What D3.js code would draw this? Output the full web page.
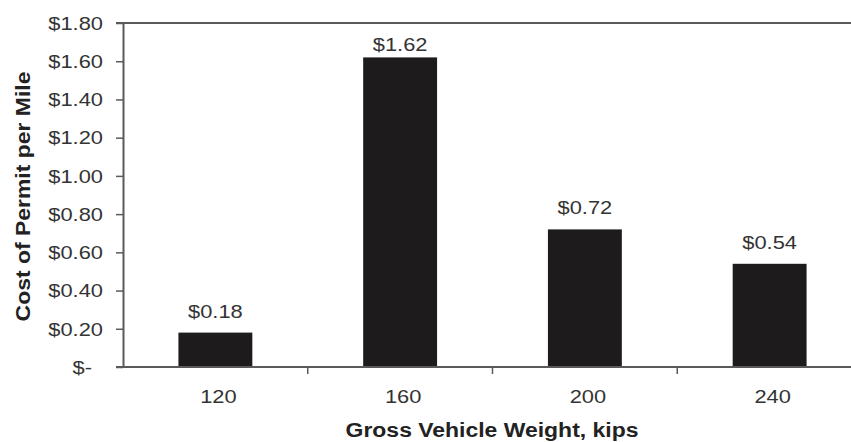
<!DOCTYPE html>
<html>
<head>
<meta charset="utf-8">
<script src="https://cdn.jsdelivr.net/npm/d3@7"></script>
<style>
  body { margin: 0; background: #fff; }
  text { font-family: "Liberation Sans", Arial, sans-serif; }
</style>
</head>
<body>
<svg id="bars"></svg>
<script>
// data
let weights = ['120', '160', '200', '240'];
let costs = [0.18, 1.62, 0.72, 0.54];
let costTicks = [0, 0.2, 0.4, 0.6, 0.8, 1.0, 1.2, 1.4, 1.6, 1.8];

let config = {
  'svg': {},
  'plot': {},
  'text': {}
};

config.svg.width = 851;
config.svg.height = 442;

// the plot box runs off the right edge of the picture
config.plot.x = 123;
config.plot.y = 23;
config.plot.width = 739;
config.plot.height = 344;

config.text.stretch = 1.25;
config.text.titleStretch = 1.12;

let svg = d3.select('svg#bars')
  .attr('width', config.svg.width)
  .attr('height', config.svg.height);

let scale = {};

scale.x = d3.scaleBand()
  .domain(weights)
  .range([config.plot.x, config.plot.x + config.plot.width])
  .paddingInner(0.6)
  .paddingOuter(0.3);

scale.y = d3.scaleLinear()
  .domain([0, 1.8])
  .range([config.plot.y + config.plot.height, config.plot.y]);

function money(d) {
  return d === 0 ? '$-' : '$' + d3.format('.2f')(d);
}

// top edge of the plot box
svg.append('line')
  .attr('x1', config.plot.x - 7)
  .attr('x2', config.svg.width)
  .attr('y1', scale.y(1.8))
  .attr('y2', scale.y(1.8))
  .attr('stroke', '#5a5a5a')
  .attr('stroke-width', 2);

// bars
svg.append('g')
  .attr('id', 'plot')
  .selectAll('rect')
  .data(weights)
  .enter()
  .append('rect')
  .attr('x', d => scale.x(d))
  .attr('y', (d, i) => scale.y(costs[i]))
  .attr('width', scale.x.bandwidth())
  .attr('height', (d, i) => scale.y(0) - scale.y(costs[i]))
  .attr('fill', '#1e1b1c');

// value labels, kept inside the plot box
svg.append('g')
  .attr('id', 'labels')
  .selectAll('text')
  .data(weights)
  .enter()
  .append('text')
  .attr('transform', (d, i) => {
    let y = Math.max(scale.y(costs[i]) - 15, config.plot.y + 28);
    return translate(scale.x(d) + scale.x.bandwidth() / 2, y) + ' scale(' + config.text.stretch + ',1)';
  })
  .attr('text-anchor', 'middle')
  .attr('font-size', '17.5px')
  .attr('fill', '#333')
  .text((d, i) => money(costs[i]));

// y axis
let axisY = d3.axisLeft(scale.y)
  .tickValues(costTicks)
  .tickFormat(money)
  .tickSize(7)
  .tickSizeOuter(0);

let gy = svg.append('g')
  .attr('id', 'y-axis')
  .attr('transform', translate(config.plot.x, 0))
  .call(axisY);

gy.select('.domain').attr('stroke', '#5a5a5a').attr('stroke-width', 2);
gy.selectAll('.tick line').attr('stroke', '#5a5a5a').attr('stroke-width', 1.5);
gy.selectAll('.tick text')
  .attr('x', 0)
  .attr('dy', '0.36em')
  .attr('transform', d => translate(d === 0 ? -31 : -20, 0) + ' scale(' + config.text.stretch + ',1)')
  .attr('font-size', '17.5px')
  .attr('font-family', null)
  .attr('fill', '#333');

// x axis: labels under the bars, ticks between the categories
let axisX = d3.axisBottom(scale.x)
  .tickSize(0)
  .tickSizeOuter(0);

let gx = svg.append('g')
  .attr('id', 'x-axis')
  .attr('transform', translate(0, scale.y(0)))
  .call(axisX);

gx.select('.domain')
  .attr('d', 'M' + (config.plot.x - 7) + ',0H' + config.svg.width)
  .attr('stroke', '#5a5a5a')
  .attr('stroke-width', 2);

gx.selectAll('.tick text')
  .attr('y', 0)
  .attr('dy', 0)
  .attr('transform', translate(3, 36) + ' scale(' + config.text.stretch + ',1)')
  .attr('font-size', '17.5px')
  .attr('font-family', null)
  .attr('fill', '#333');

let gap = (scale.x.step() - scale.x.bandwidth()) / 2;

gx.selectAll('line.between')
  .data(weights.slice(1))
  .enter()
  .append('line')
  .attr('class', 'between')
  .attr('x1', d => scale.x(d) - gap)
  .attr('x2', d => scale.x(d) - gap)
  .attr('y1', 0)
  .attr('y2', 7)
  .attr('stroke', '#5a5a5a')
  .attr('stroke-width', 1.5);

drawTitles();

function drawTitles() {
  svg.append('text')
    .text('Gross Vehicle Weight, kips')
    .attr('transform', translate(492, 436.5) + ' scale(' + config.text.titleStretch + ',1)')
    .attr('text-anchor', 'middle')
    .attr('font-size', '20.5px')
    .attr('font-weight', 'bold')
    .attr('fill', '#222');

  svg.append('text')
    .text('Cost of Permit per Mile')
    .attr('transform', translate(30, 196.5) + ' rotate(-90) scale(' + config.text.titleStretch + ',1)')
    .attr('text-anchor', 'middle')
    .attr('font-size', '20.5px')
    .attr('font-weight', 'bold')
    .attr('fill', '#222');
}

function translate(x, y) {
  return 'translate(' + x + ',' + y + ')';
}
</script>
</body>
</html>
